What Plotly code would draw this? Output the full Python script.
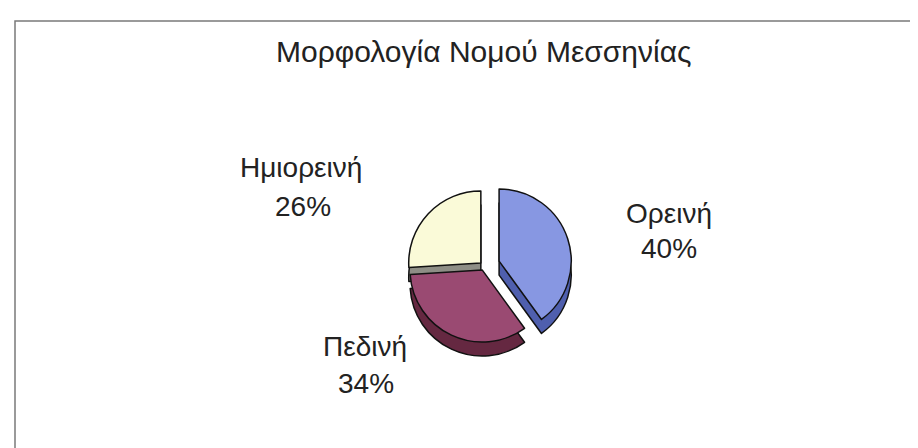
import plotly.graph_objects as go

# Data
categories = ["Ορεινή", "Πεδινή", "Ημιορεινή"]
values = [40, 34, 26]
title_text = "Μορφολογία Νομού Μεσσηνίας"

# Styles
top_colors = ["#8797E2", "#9A4A72", "#FAFAD8"]
side_colors = ["#4F5FAE", "#652841", "#8E8E86"]
pulls = [0.22, 0.06, 0.06]
FONT = "Liberation Sans, Arial, sans-serif"

W, H = 918, 448

def dom(x0, x1, y0, y1):
    # pixel box -> paper domain
    return dict(x=[x0 / W, x1 / W], y=[1 - y1 / H, 1 - y0 / H])

cx, cy, half = 476, 258, 88
depth = 14
fig = go.Figure()
# side (depth) layer
fig.add_trace(go.Pie(
    labels=categories, values=values, sort=False, direction="clockwise",
    rotation=0, pull=pulls, textinfo="none", hoverinfo="skip",
    marker=dict(colors=side_colors, line=dict(color="#111111", width=1.5)),
    domain=dom(cx - half, cx + half, cy - half + depth, cy + half + depth), showlegend=False,
))
# top layer
fig.add_trace(go.Pie(
    labels=categories, values=values, sort=False, direction="clockwise",
    rotation=0, pull=pulls, textinfo="none",
    marker=dict(colors=top_colors, line=dict(color="#111111", width=1.5)),
    domain=dom(cx - half, cx + half, cy - half, cy + half), showlegend=False,
))

# label positions (pixels): (name centre, percent centre) per category
label_pos = {
    "Ορεινή": ((661, 205), (661, 240)),
    "Πεδινή": ((357, 338), (358, 375)),
    "Ημιορεινή": ((293, 159), (295, 198)),
}
annotations = []
for c, v in zip(categories, values):
    (nx, ny), (px, py) = label_pos[c]
    for txt, x, y in ((c, nx, ny), (f"{v}%", px, py)):
        annotations.append(dict(
            x=x / W, y=1 - y / H, xref="paper", yref="paper",
            xanchor="center", yanchor="middle",
            text=txt, showarrow=False, align="center",
            font=dict(family=FONT, size=28, color="#222222"),
        ))
annotations.append(dict(
    x=476 / W, y=1 - 43 / H, xref="paper", yref="paper", text=title_text,
    xanchor="center", yanchor="middle",
    showarrow=False, font=dict(family=FONT, size=30, color="#222222"),
))

fig.update_layout(
    width=W, height=H, margin=dict(l=0, r=0, t=0, b=0),
    paper_bgcolor="white", plot_bgcolor="white",
    annotations=annotations,
    shapes=[dict(type="rect", xref="paper", yref="paper",
                 x0=7 / W, x1=1.2, y0=-0.2, y1=1 - 13 / H,
                 line=dict(color="#7a7a7a", width=1.5), fillcolor="rgba(0,0,0,0)")],
)
fig.write_html("out.html")
